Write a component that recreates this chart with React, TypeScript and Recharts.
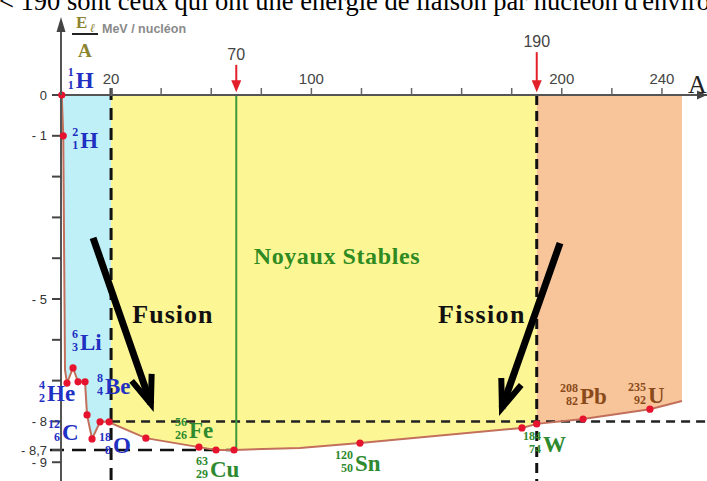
import React from "react";
import {
  Area,
  ComposedChart,
  Line,
  ReferenceDot,
  ReferenceLine,
  Scatter,
  XAxis,
  YAxis,
} from "recharts";

// courbe d'Aston telle que dessinée (A, El/A en MeV)
const curveA = [
  0.3, 0.9, 1.6, 2.4, 4.8, 6.8, 9.6, 10.4, 12.4, 15.6, 19.2, 20, 33.9, 55.1,
  61.9, 69.1, 95.4, 119.4, 184.1, 190, 208.5, 235.2, 248,
];
const curveE = [
  0, -1.0, -6.74, -7.06, -6.69, -7.03, -7.03, -7.84, -8.43, -8.01, -8.01,
  -8.04, -8.41, -8.63, -8.7, -8.7, -8.65, -8.53, -8.16, -8.06, -7.94, -7.7,
  -7.5,
];

// noyaux nommés
const nuclideSym = ["H", "H", "He", "Li", "Be", "C", "O", "Fe", "Cu", "Sn", "W", "Pb", "U"];
const nuclideMass = [1, 2, 4, 6, 8, 12, 18, 56, 63, 120, 184, 208, 235];
const nuclideZ = [1, 1, 2, 3, 4, 6, 8, 26, 29, 50, 74, 82, 92];
const nuclideA = [0.3, 0.9, 2.4, 4.8, 9.6, 12.4, 19.2, 55.1, 61.9, 119.4, 184.1, 208.5, 235.2];
const nuclideE = [0, -1.0, -7.06, -6.69, -7.03, -8.43, -8.01, -8.63, -8.7, -8.53, -8.16, -7.94, -7.7];

// autres points rouges sans nom
const otherA = [6.8, 10.4, 15.6, 33.9, 69.1, 190];
const otherE = [-7.03, -7.84, -8.01, -8.41, -8.7, -8.06];

const xTicks = [20, 40, 60, 80, 100, 120, 140, 160, 180, 200, 220, 240];
const xTickLabels = [20, 100, 200, 240];
const yTicks = [0, -1, -2, -3, -4, -5, -6, -7, -8, -8.7, -9];
const yTickLabels = [0, -1, -5, -8, -8.7, -9];

const FUSION_MAX = 20;
const STABLE_A = 70;
const FISSION_MIN = 190;

const data = curveA.map((a, i) => ({
  A: a,
  E: curveE[i],
  blue: a <= FUSION_MAX ? curveE[i] : null,
  yellow: a >= FUSION_MAX && a <= FISSION_MIN ? curveE[i] : null,
  orange: a >= FISSION_MIN ? curveE[i] : null,
}));

const dots = [
  ...nuclideA.map((a, i) => ({ A: a, E: nuclideE[i] })),
  ...otherA.map((a, i) => ({ A: a, E: otherE[i] })),
];

const BLUE = "#1f30c2";
const GREEN = "#2e8a2e";
const BROWN = "#8a4a1a";
// décalage du symbole par rapport au point, et couleur
const labelLayout: [number, number, string][] = [
  [14, -7, BLUE],
  [17, 12, BLUE],
  [-20, 18, BLUE],
  [7, -18, BLUE],
  [20, 12, BLUE],
  [-30, 1, BLUE],
  [4, 31, BLUE],
  [-10, -9, GREEN],
  [-6, 27, GREEN],
  [-5, 28, GREEN],
  [21, 24, GREEN],
  [-3, -15, BROWN],
  [-2, -6, BROWN],
];

const fmtY = (v: number) => {
  if (!yTickLabels.includes(v)) return "";
  if (v === 0) return "0";
  return "- " + String(Math.abs(v)).replace(".", ",");
};

const bigArrow = (p: any) => {
  const { x1, y1, x2, y2 } = p;
  const ang = Math.atan2(y2 - y1, x2 - x1);
  const len = 30;
  const s = 0.36;
  const b1 = [x2 - len * Math.cos(ang - s), y2 - len * Math.sin(ang - s)];
  const b2 = [x2 - len * Math.cos(ang + s), y2 - len * Math.sin(ang + s)];
  return (
    <g>
      <line x1={x1} y1={y1} x2={x2} y2={y2} stroke="#000" strokeWidth={7} />
      <polyline
        points={`${b1[0]},${b1[1]} ${x2},${y2} ${b2[0]},${b2[1]}`}
        fill="none"
        stroke="#000"
        strokeWidth={6}
        strokeLinejoin="miter"
      />
    </g>
  );
};

const redArrow = (label: string) => (p: any) => {
  const { x1, y1, x2, y2 } = p;
  return (
    <g>
      <text
        x={x1}
        y={y1 - 5}
        textAnchor="middle"
        fontSize={16}
        fontFamily="Liberation Sans"
        fill="#444"
      >
        {label}
      </text>
      <line x1={x1} y1={y1} x2={x2} y2={y2 - 8} stroke="#e3202a" strokeWidth={2} />
      <polygon
        points={`${x2},${y2} ${x2 - 5},${y2 - 12} ${x2 + 5},${y2 - 12}`}
        fill="#e3202a"
      />
    </g>
  );
};

const textShape =
  (content: string, size: number, color: string, spacing: number) => (p: any) => (
    <text
      x={p.cx}
      y={p.cy}
      textAnchor="middle"
      fontFamily="Liberation Serif"
      fontWeight="bold"
      fontSize={size}
      letterSpacing={spacing}
      fill={color}
    >
      {content}
    </text>
  );

const nuclideLabel = (i: number) => (p: any) => {
  const [dx, dy, color] = labelLayout[i];
  const sx = p.cx + dx;
  const by = p.cy + dy;
  return (
    <g fontFamily="Liberation Serif" fontWeight="bold" fill={color}>
      <text x={sx - 2} y={by - 12} textAnchor="end" fontSize={12}>
        {nuclideMass[i]}
      </text>
      <text x={sx - 2} y={by + 1} textAnchor="end" fontSize={12}>
        {nuclideZ[i]}
      </text>
      <text x={sx} y={by} fontSize={23}>
        {nuclideSym[i]}
      </text>
    </g>
  );
};

const axesDecor = (p: any) => {
  const { cx, cy } = p;
  return (
    <g>
      <line x1={cx} y1={cy} x2={cx} y2={cy - 64} stroke="#555" strokeWidth={2} />
      <polygon
        points={`${cx},${cy - 78} ${cx - 4.5},${cy - 63} ${cx + 4.5},${cy - 63}`}
        fill="#444"
      />
      <text
        x={cx + 15}
        y={cy - 67}
        fontFamily="Liberation Serif"
        fontWeight="bold"
        fontSize={17}
        fill="#8a8330"
      >
        E
      </text>
      <text
        x={cx + 29}
        y={cy - 63}
        fontFamily="Liberation Serif"
        fontStyle="italic"
        fontWeight="bold"
        fontSize={12}
        fill="#8a8330"
      >
        ℓ
      </text>
      <line x1={cx + 11} y1={cy - 61} x2={cx + 37} y2={cy - 61} stroke="#222" strokeWidth={2} />
      <text
        x={cx + 17}
        y={cy - 38}
        fontFamily="Liberation Serif"
        fontWeight="bold"
        fontSize={19}
        fill="#8a8330"
      >
        A
      </text>
      <text
        x={cx + 41}
        y={cy - 62}
        fontFamily="Liberation Sans"
        fontWeight="bold"
        fontSize={12.5}
        fill="#8a8a8a"
      >
        MeV / nucléon
      </text>
    </g>
  );
};

const xArrow = (p: any) => {
  const { cx, cy } = p;
  return (
    <g>
      <polygon points={`${cx},${cy} ${cx - 10},${cy - 4.5} ${cx - 10},${cy + 4.5}`} fill="#444" />
      <text x={cx - 19} y={cy - 2} fontFamily="Liberation Serif" fontSize={26} fill="#222">
        A
      </text>
    </g>
  );
};

export default function App() {
  return (
    <div
      style={{
        position: "absolute",
        left: 0,
        top: 0,
        width: 707,
        height: 481,
        overflow: "hidden",
        background: "#fff",
      }}
    >
      <div
        style={{
          position: "absolute",
          left: -1,
          top: -12,
          fontFamily: "Liberation Serif",
          fontSize: 26.5,
          lineHeight: "26.5px",
          whiteSpace: "nowrap",
          color: "#000",
        }}
      >
        {"< 190 sont ceux qui ont une énergie de liaison par nucléon d'environ"}
      </div>
      <ComposedChart
        width={707}
        height={481}
        data={data}
        margin={{ top: 65, right: 0, bottom: 0, left: 0 }}
      >
        <XAxis
          dataKey="A"
          type="number"
          orientation="top"
          domain={[0, 258]}
          ticks={xTicks}
          interval={0}
          height={30}
          tickSize={7}
          tickMargin={4}
          tickFormatter={(v: number) => (xTickLabels.includes(v) ? String(v) : "")}
          tick={{ fill: "#444", fontSize: 15, fontFamily: "Liberation Sans" }}
          tickLine={{ stroke: "#666", strokeWidth: 1.5 }}
          axisLine={{ stroke: "#555", strokeWidth: 2 }}
        />
        <YAxis
          type="number"
          domain={[-9.46, 0]}
          ticks={yTicks}
          interval={0}
          width={61}
          tickSize={9}
          tickMargin={5}
          tickFormatter={fmtY}
          tick={{ fill: "#333", fontSize: 13, fontFamily: "Liberation Sans" }}
          tickLine={{ stroke: "#444", strokeWidth: 2 }}
          axisLine={{ stroke: "#555", strokeWidth: 2 }}
        />

        <Area dataKey="blue" type="linear" baseValue={0} stroke="none" fill="#bff0f7" fillOpacity={1} isAnimationActive={false} />
        <Area dataKey="yellow" type="linear" baseValue={0} stroke="none" fill="#fcf794" fillOpacity={1} isAnimationActive={false} />
        <Area dataKey="orange" type="linear" baseValue={0} stroke="none" fill="#f8c59b" fillOpacity={1} isAnimationActive={false} />

        <ReferenceLine
          segment={[{ x: FUSION_MAX, y: 0.17 }, { x: FUSION_MAX, y: -9.46 }]}
          ifOverflow="visible"
          stroke="#111"
          strokeWidth={3}
          strokeDasharray="12 8"
        />
        <ReferenceLine
          segment={[{ x: FISSION_MIN, y: 0 }, { x: FISSION_MIN, y: -9.46 }]}
          ifOverflow="visible"
          stroke="#111"
          strokeWidth={3}
          strokeDasharray="10 6"
        />
        <ReferenceLine
          segment={[{ x: FUSION_MAX, y: -8 }, { x: 258, y: -8 }]}
          ifOverflow="visible"
          stroke="#222"
          strokeWidth={2.5}
          strokeDasharray="9 6"
        />
        <ReferenceLine
          segment={[{ x: -4.4, y: -8.7 }, { x: STABLE_A, y: -8.7 }]}
          ifOverflow="visible"
          stroke="#111"
          strokeWidth={2.5}
          strokeDasharray="14 8"
        />
        <ReferenceLine
          segment={[{ x: STABLE_A, y: 0 }, { x: STABLE_A, y: -8.7 }]}
          ifOverflow="visible"
          stroke="#3c9a3c"
          strokeWidth={2}
        />

        <Line dataKey="E" type="linear" stroke="#c26f5c" strokeWidth={2} dot={false} activeDot={false} isAnimationActive={false} />
        <Scatter
          data={dots}
          dataKey="E"
          isAnimationActive={false}
          shape={(p: any) => <circle cx={p.cx} cy={p.cy} r={3.6} fill="#e5132d" />}
        />

        <ReferenceLine
          segment={[{ x: STABLE_A, y: 0.74 }, { x: STABLE_A, y: 0.07 }]}
          ifOverflow="visible"
          shape={redArrow("70")}
        />
        <ReferenceLine
          segment={[{ x: FISSION_MIN, y: 1.05 }, { x: FISSION_MIN, y: 0.07 }]}
          ifOverflow="visible"
          shape={redArrow("190")}
        />
        <ReferenceLine
          segment={[{ x: 12.8, y: -3.5 }, { x: 35.9, y: -7.57 }]}
          ifOverflow="visible"
          shape={bigArrow}
        />
        <ReferenceLine
          segment={[{ x: 199.3, y: -3.63 }, { x: 176.1, y: -7.67 }]}
          ifOverflow="visible"
          shape={bigArrow}
        />

        <ReferenceDot x={110.2} y={-4.14} ifOverflow="visible" shape={textShape("Noyaux Stables", 24, "#2f8a22", 0.6)} />
        <ReferenceDot x={44.7} y={-5.59} ifOverflow="visible" shape={textShape("Fusion", 26, "#111", 1)} />
        <ReferenceDot x={168.1} y={-5.59} ifOverflow="visible" shape={textShape("Fission", 26, "#111", 1.4)} />

        {nuclideA.map((a, i) => (
          <ReferenceDot key={i} x={a} y={nuclideE[i]} ifOverflow="visible" shape={nuclideLabel(i)} />
        ))}

        <ReferenceDot x={0} y={0} ifOverflow="visible" shape={axesDecor} />
        <ReferenceDot x={258} y={0} ifOverflow="visible" shape={xArrow} />
      </ComposedChart>
    </div>
  );
}
